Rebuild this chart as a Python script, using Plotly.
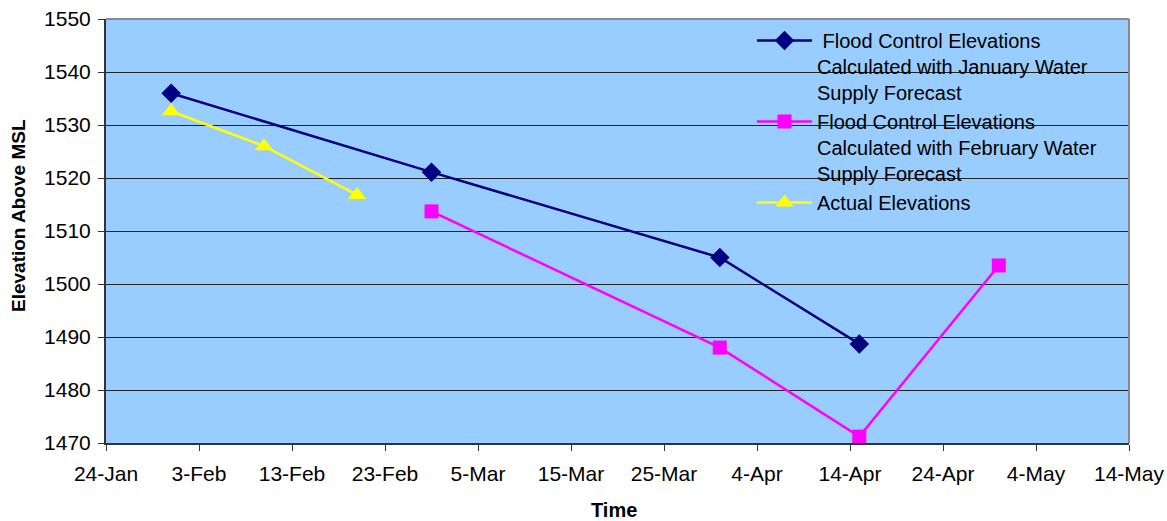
import plotly.graph_objects as go

# Flood control elevation forecasts vs. actual reservoir elevations
jan_dates = ["2006-01-31", "2006-02-28", "2006-03-31", "2006-04-15"]
jan_elev = [1536.0, 1521.1, 1505.0, 1488.7]

feb_dates = ["2006-02-28", "2006-03-31", "2006-04-15", "2006-04-30"]
feb_elev = [1513.7, 1488.0, 1471.2, 1503.5]

actual_dates = ["2006-01-31", "2006-02-10", "2006-02-20"]
actual_elev = [1532.6, 1526.0, 1516.8]

names = [
    " Flood Control Elevations<br>Calculated with January Water<br>Supply Forecast",
    "Flood Control Elevations<br>Calculated with February Water<br>Supply Forecast",
    "Actual Elevations",
]

FONT = "Liberation Sans, Arial, sans-serif"
PLOT_BG = "#99CCFF"

fig = go.Figure()
fig.add_trace(go.Scatter(
    x=jan_dates, y=jan_elev, name=names[0], mode="lines+markers",
    line=dict(color="#000080", width=2.5),
    marker=dict(symbol="diamond", size=15, color="#000080"),
))
fig.add_trace(go.Scatter(
    x=feb_dates, y=feb_elev, name=names[1], mode="lines+markers",
    line=dict(color="#FF00FF", width=2.5),
    marker=dict(symbol="square", size=14, color="#FF00FF"),
))
fig.add_trace(go.Scatter(
    x=actual_dates, y=actual_elev, name=names[2], mode="lines+markers",
    line=dict(color="#FFFF00", width=2.5),
    marker=dict(symbol="triangle-up", size=16, color="#FFFF00"),
))

# plot-area pixel geometry, used to place the legend panel and titles
L, T, B = 106, 19, 443
W, H = 1129 - 106, 443 - 19
px = lambda v: (v - L) / W
py = lambda v: (B - v) / H

fig.update_layout(
    width=1167, height=521,
    margin=dict(l=L, r=1167 - 1129, t=T, b=521 - B, pad=0),
    paper_bgcolor="white",
    plot_bgcolor=PLOT_BG,
    font=dict(family=FONT, size=21, color="black"),
    showlegend=True,
    legend=dict(
        x=px(752), y=py(21), xanchor="left", yanchor="top",
        bgcolor="rgba(0,0,0,0)", borderwidth=0,
        font=dict(family=FONT, size=20, color="black"),
        valign="top", itemwidth=55, tracegroupgap=0,
        itemclick=False,
    ),
    xaxis=dict(
        type="date",
        range=["2006-01-24", "2006-05-14"],
        tick0="2006-01-24", dtick=10 * 24 * 3600 * 1000,
        tickformat="%-d-%b",
        ticks="outside", ticklen=6, tickcolor="#333333",
        showline=True, linecolor="#333333", linewidth=2,
        showgrid=False, zeroline=False, automargin=False,
        ticklabelstandoff=5,
        tickfont=dict(family=FONT, size=21),
    ),
    yaxis=dict(
        range=[1470, 1550], dtick=10,
        ticks="outside", ticklen=6, tickcolor="#333333",
        showline=True, linecolor="#333333", linewidth=2,
        showgrid=True, gridcolor="#222222", gridwidth=1,
        zeroline=False, automargin=False,
        ticklabelstandoff=3,
        tickfont=dict(family=FONT, size=21),
    ),
    annotations=[
        dict(text="<b>Time</b>", xref="paper", yref="paper",
             x=px(614), y=py(510), xanchor="center", yanchor="middle",
             showarrow=False, font=dict(family=FONT, size=20)),
        dict(text="<b>Elevation Above MSL</b>", xref="paper", yref="paper",
             x=px(18), y=py(216), xanchor="center", yanchor="middle",
             textangle=-90, showarrow=False, font=dict(family=FONT, size=19)),
    ],
    shapes=[
        # legend panel
        dict(type="rect", xref="paper", yref="paper",
             x0=px(735), x1=1.0, y0=py(249), y1=1.0,
             fillcolor=PLOT_BG, line=dict(width=0), layer="between"),
        # plot-area frame on top and right
        dict(type="line", xref="paper", yref="paper", x0=0, x1=1, y0=1, y1=1,
             line=dict(color="#888888", width=2), layer="above"),
        dict(type="line", xref="paper", yref="paper", x0=1, x1=1, y0=0, y1=1,
             line=dict(color="#888888", width=2), layer="above"),
    ],
)

fig.write_html("out.html")
